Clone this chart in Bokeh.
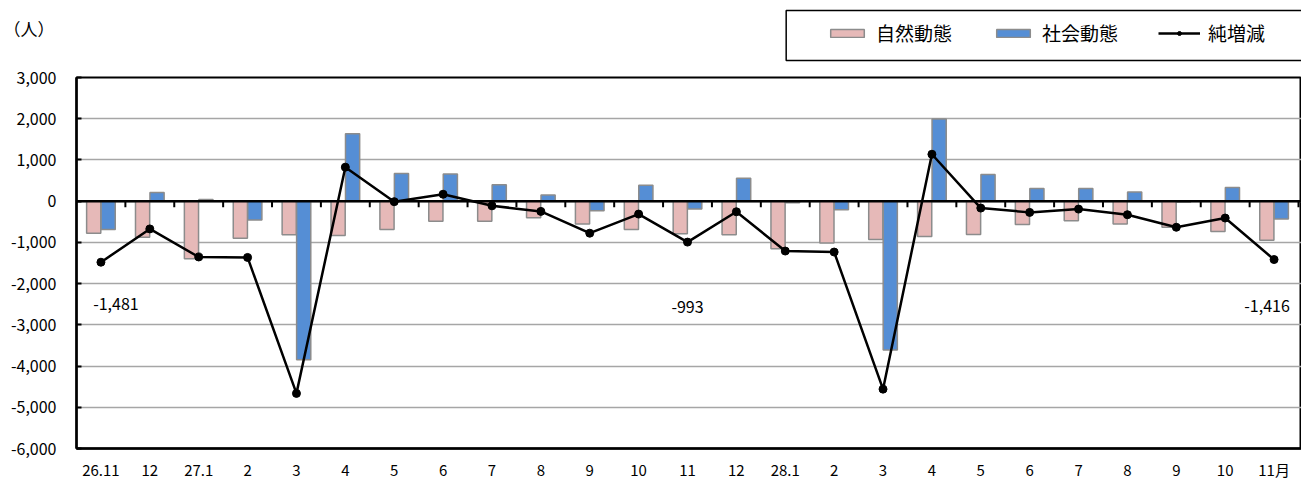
from bokeh.plotting import figure
from bokeh.layouts import column
from bokeh.models import (Range1d, FixedTicker, NumeralTickFormatter, Span, Legend,
                          LegendItem, ColumnDataSource)
from bokeh.transform import dodge
from bokeh.embed import file_html
from bokeh.resources import INLINE
from bokeh.core.properties import value

categories = ["26.11", "12", "27.1", "2", "3", "4", "5", "6", "7", "8", "9", "10", "11",
              "12", "28.1", "2", "3", "4", "5", "6", "7", "8", "9", "10", "11月"]
natural = [-777, -873, -1394, -897, -817, -833, -689, -488, -488, -401, -553, -689, -793,
           -817, -1154, -1017, -930, -857, -809, -569, -473, -553, -630, -737, -950]
social = [-689, 209, 40, -457, -3846, 1635, 673, 656, 401, 151, -233, 385, -192,
          553, -40, -209, -3613, 1995, 649, 305, 305, 224, -20, 329, -433]
net = [-1481, -673, -1354, -1365, -4663, 825, -12, 168, -113, -248, -777, -313, -993,
       -257, -1210, -1234, -4560, 1138, -168, -272, -192, -329, -633, -409, -1416]
labeled_idx = [0, 12, 24]
y_ticks = [-6000, -5000, -4000, -3000, -2000, -1000, 0, 1000, 2000, 3000]
series_names = ["自然動態", "社会動態", "純増減"]
unit_label = "（人）"

FONT = "Noto Sans CJK JP"
PINK, BLUE, EDGE = "#E6B9B8", "#558ED5", "#8C8C8C"
W = 1301
LEFT = 72
HEAD_H = 62
n = len(categories)
xs = list(range(n))
src = ColumnDataSource(dict(x=xs, natural=natural, social=social, net=net))

# ---------------- header (unit label + legend), coordinates in page pixels ----------------
h = figure(width=W, height=HEAD_H, output_backend="svg", toolbar_location=None,
           x_range=Range1d(LEFT, W), y_range=Range1d(HEAD_H, 0),
           x_axis_location=None, y_axis_location="left",
           min_border_left=LEFT, min_border_right=0, min_border_top=0, min_border_bottom=0)
h.outline_line_color = None
h.grid.visible = False
h.background_fill_color = "white"
h.border_fill_color = "white"
# unit label shown as the header's single axis label
h.yaxis.ticker = FixedTicker(ticks=[28])
h.yaxis.major_label_overrides = {28: unit_label}
h.yaxis.axis_line_color = None
h.yaxis.major_tick_line_color = None
h.yaxis.minor_tick_line_color = None
h.yaxis.major_label_standoff = 16
h.yaxis.major_label_text_font = FONT
h.yaxis.major_label_text_font_size = "17px"
h.yaxis.major_label_text_color = "black"

# legend frame box
h.quad(left=[784], right=[W + 20], top=[10], bottom=[60], fill_color=None,
       line_color="black", line_width=1.5)
# legend proxies (zero-size, hidden inside the empty header area)
px, py = [400], [200]
d_nat = h.vbar(x=px, top=py, bottom=py, width=0,
               fill_color=PINK, line_color=EDGE, line_width=1.5)
d_soc = h.vbar(x=px, top=py, bottom=py, width=0,
               fill_color=BLUE, line_color=EDGE, line_width=1.5)
d_line = h.line(x=px, y=py, line_color="black", line_width=2.5)
d_pts = h.scatter(x=px, y=py, size=8, color="black")
legend = Legend(items=[LegendItem(label=series_names[0], renderers=[d_nat]),
                       LegendItem(label=series_names[1], renderers=[d_soc]),
                       LegendItem(label=series_names[2], renderers=[d_line, d_pts])],
                orientation="horizontal", location=(808 - LEFT, HEAD_H - 60),
                border_line_alpha=0, background_fill_alpha=0,
                padding=14, spacing=40, glyph_width=42, glyph_height=10,
                label_standoff=8, label_text_font=FONT, label_text_font_size="19px",
                label_text_color="black")
h.add_layout(legend)

# ---------------- main chart ----------------
p = figure(width=W, height=482 - HEAD_H, output_backend="svg", toolbar_location=None,
           x_range=Range1d(-0.5, -0.5 + n * 1229 / 1226),
           y_range=Range1d(y_ticks[0], y_ticks[-1]),
           min_border_left=LEFT, min_border_top=15, min_border_bottom=30, min_border_right=0)
p.background_fill_color = "white"
p.border_fill_color = "white"
p.outline_line_color = "black"
p.outline_line_width = 2

p.xgrid.visible = False
p.ygrid.ticker = FixedTicker(ticks=y_ticks)
p.ygrid.grid_line_color = "#A6A6A6"
p.ygrid.grid_line_width = 1.5

r_nat = p.vbar(x=dodge("x", -0.148), top="natural", bottom=0, width=0.29, source=src,
               fill_color=PINK, line_color=EDGE, line_width=1.5)
r_soc = p.vbar(x=dodge("x", 0.148), top="social", bottom=0, width=0.29, source=src,
               fill_color=BLUE, line_color=EDGE, line_width=1.5)

p.add_layout(Span(location=0, dimension="width", line_color="black", line_width=2.5))
bounds = [i + 0.5 for i in range(n)]
p.segment(x0=bounds, y0=[0] * n, x1=bounds, y1=[-150] * n, line_color="black", line_width=2)

r_line = p.line("x", "net", source=src, line_color="black", line_width=2.5)
r_pts = p.scatter("x", "net", source=src, size=8, color="black")

lab_src = ColumnDataSource(dict(
    x=labeled_idx,
    y=[net[i] for i in labeled_idx],
    t=[f"{net[i]:,}" for i in labeled_idx],
    xo=[15, 0, -7],
    yo=[42, 65, 46],
))
p.text(x="x", y="y", text="t", x_offset="xo", y_offset="yo", source=lab_src,
       text_align="center", text_baseline="middle", text_font=value(FONT),
       text_font_size="16px", text_color="black")

p.yaxis.ticker = FixedTicker(ticks=y_ticks)
p.yaxis.formatter = NumeralTickFormatter(format="0,0")
p.yaxis.axis_line_color = "black"
p.yaxis.axis_line_width = 2.5
p.yaxis.major_tick_in = 5
p.yaxis.major_tick_out = 0
p.yaxis.major_tick_line_color = "black"
p.yaxis.major_tick_line_width = 2
p.yaxis.minor_tick_line_color = None
p.yaxis.major_label_standoff = 20
p.yaxis.major_label_text_font = FONT
p.yaxis.major_label_text_font_size = "16px"
p.yaxis.major_label_text_color = "black"

p.xaxis.ticker = FixedTicker(ticks=xs)
p.xaxis.major_label_overrides = {i: c for i, c in enumerate(categories)}
p.xaxis.axis_line_color = "black"
p.xaxis.axis_line_width = 2.5
p.xaxis.major_tick_in = 0
p.xaxis.major_tick_out = 0
p.xaxis.minor_tick_line_color = None
p.xaxis.major_label_standoff = 10
p.xaxis.major_label_text_font = FONT
p.xaxis.major_label_text_font_size = "15px"
p.xaxis.major_label_text_color = "black"

layout = column(h, p, spacing=0)
open("out.html", "w").write(file_html(layout, INLINE))
